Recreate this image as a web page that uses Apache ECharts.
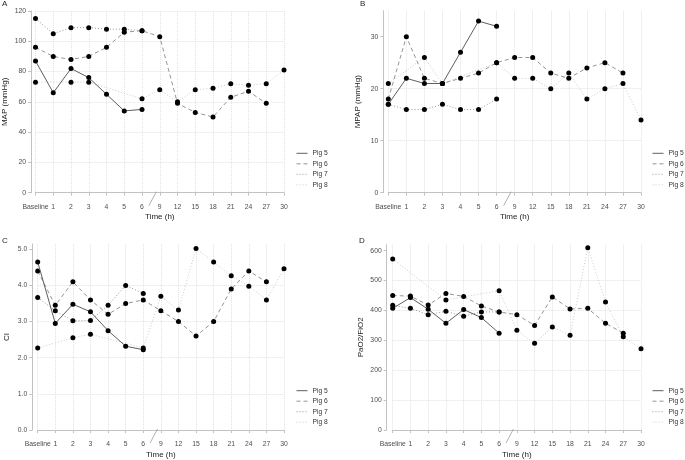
<!DOCTYPE html>
<html><head><meta charset="utf-8">
<script src="https://cdn.jsdelivr.net/npm/echarts@6/dist/echarts.min.js"></script>
<style>html,body{margin:0;padding:0;background:#fff}#c{width:685px;height:460px}</style>
</head><body><div id="c"></div>
<script>
// ---- data ----
const categories = ['Baseline','1','2','3','4','5','6','9','12','15','18','21','24','27','30'];
const pigNames = ['Pig 5','Pig 6','Pig 7','Pig 8'];

const mapPig5 = [87,66,82,76,65,54,55,null,null,null,null,null,null,null,null];
const mapPig6 = [96,90,88,90,96,106,107,103,59,53,50,63,67,59,null];
const mapPig7 = [115,105,109,109,108,108,107,null,null,null,null,null,null,null,null];
const mapPig8 = [73,null,73,73,null,null,62,68,60,68,69,72,71,72,81];

const mpapPig5 = [17,22,21,21,27,33,32,null,null,null,null,null,null,null,null];
const mpapPig6 = [18,30,22,21,22,23,25,26,26,23,22,24,25,23,null];
const mpapPig7 = [17,16,16,17,16,16,18,null,null,null,null,null,null,null,null];
const mpapPig8 = [21,null,26,21,null,null,25,22,22,20,23,18,20,21,14];

const ciPig5 = [4.65,2.95,3.48,3.27,2.75,2.32,2.22,null,null,null,null,null,null,null,null];
const ciPig6 = [4.4,3.45,4.1,3.6,3.2,3.5,3.6,3.3,3.0,2.6,3.0,3.9,4.4,4.1,null];
const ciPig7 = [3.67,3.3,3.02,3.03,3.45,4.0,3.78,null,null,null,null,null,null,null,null];
const ciPig8 = [2.27,null,2.55,2.65,null,null,2.27,3.7,3.32,5.02,4.65,4.27,3.98,3.6,4.46];

const pfPig5 = [407,443,404,357,403,376,324,null,null,null,null,null,null,null,null];
const pfPig6 = [450,448,418,457,447,415,395,386,350,445,405,407,357,324,null];
const pfPig7 = [417,407,386,397,381,395,395,null,null,null,null,null,null,null,null];
const pfPig8 = [572,null,null,435,null,null,466,334,290,345,317,610,428,312,272];

const yTicksMAP = [0,20,40,60,80,100,120];
const yTicksMPAP = [0,10,20,30];
const yTicksCI = [0,1,2,3,4,5];
const yTicksPF = [0,100,200,300,400,500,600];

const panelLetters = ['A','B','C','D'];
const yNames = ['MAP (mmHg)','MPAP (mmHg)','CI','PaO2/FiO2'];
const panelData = [
  [mapPig5,mapPig6,mapPig7,mapPig8],
  [mpapPig5,mpapPig6,mpapPig7,mpapPig8],
  [ciPig5,ciPig6,ciPig7,ciPig8],
  [pfPig5,pfPig6,pfPig7,pfPig8]
];
const panelTicks = [yTicksMAP, yTicksMPAP, yTicksCI, yTicksPF];

// ---- layout / style ----
const layout = [
  {left:35.5, top:11,    width:248.5, height:181.7, max:120,  interval:20,  dec:0, yOff:4.5, letter:[2,0],    legend:[296,149.3]},
  {left:388.3,top:10.7,  width:252.7, height:182,   max:35,   interval:10,  dec:0, yOff:5,   letter:[360,0],  legend:[652,149.3]},
  {left:37.7, top:243.9, width:246.3, height:186.1, max:5.15, interval:1,   dec:1, yOff:5.4, letter:[2,237],  legend:[296,386.7]},
  {left:392.7,top:244.7, width:248.3, height:185.3, max:620,  interval:100, dec:0, yOff:6,   letter:[359,237],legend:[652,386.7]}
];
const pigStyles = [
  {color:'#5e5e5e', type:'solid'},
  {color:'#959595', type:[4,3]},
  {color:'#969696', type:[1,2]},
  {color:'#cacaca', type:[1,2]}
];
const FONT = 'Liberation Sans, Arial, sans-serif';
const axisColor = '#c2c2c2';
const gridColor = '#e2e2e2';
const xOff = 5.5;

const chart = echarts.init(document.getElementById('c'), null, {renderer:'canvas'});

const grid = [], xAxis = [], yAxis = [], series = [], title = [], legend = [];
layout.forEach((L, i) => {
  grid.push({left:L.left, top:L.top, width:L.width, height:L.height, containLabel:false});
  title.push({text:panelLetters[i], left:L.letter[0], top:L.letter[1], padding:0,
    textStyle:{fontSize:8, fontWeight:'normal', color:'#222', fontFamily:FONT}});
  xAxis.push({
    type:'category', gridIndex:i, data:categories, boundaryGap:false, offset:xOff,
    axisLine:{show:true, lineStyle:{color:axisColor, width:1}},
    axisTick:{show:true, interval:0, length:3, lineStyle:{color:axisColor}},
    axisLabel:{interval:0, fontSize:6.8, color:'#4d4d4d', margin:5, fontFamily:FONT},
    splitLine:{show:true, interval:0, lineStyle:{type:'dotted', color:gridColor, width:1}},
    name:'Time (h)', nameLocation:'middle', nameGap:15,
    nameTextStyle:{fontSize:8, color:'#222', fontFamily:FONT}
  });
  const ticks = panelTicks[i];
  yAxis.push({
    type:'value', gridIndex:i, min:0, max:L.max, interval:L.interval, offset:L.yOff,
    axisLine:{show:true, lineStyle:{color:axisColor, width:1}},
    axisTick:{show:true, length:3, lineStyle:{color:axisColor}, customValues:ticks},
    axisLabel:{fontSize:6.8, color:'#4d4d4d', margin:5, fontFamily:FONT, customValues:ticks,
      formatter: v => (ticks.indexOf(Math.round(v*1000)/1000) >= 0 ? v.toFixed(L.dec) : '')},
    splitLine:{show:true, showMaxLine: ticks.indexOf(L.max) >= 0, lineStyle:{type:'dotted', color:gridColor, width:1}},
    name:yNames[i], nameLocation:'middle', nameGap:22,
    nameTextStyle:{fontSize:8, color:'#222', fontFamily:FONT}
  });
  panelData[i].forEach((arr, k) => {
    series.push({
      type:'line', name:pigNames[k], xAxisIndex:i, yAxisIndex:i, data:arr,
      connectNulls:true, symbol:'circle', symbolSize:5, showSymbol:true,
      itemStyle:{color:'#000'},
      lineStyle:{color:pigStyles[k].color, width:1, type:pigStyles[k].type},
      emphasis:{disabled:true}, z: 2 + (3-k)
    });
  });
  legend.push({
    data:pigNames, orient:'vertical', left:L.legend[0], top:L.legend[1], padding:0,
    itemWidth:11, itemHeight:8, itemGap:2.5, selectedMode:false,
    itemStyle:{opacity:0},
    lineStyle:{width:1},
    textStyle:{fontSize:6.7, color:'#333', fontFamily:FONT, lineHeight:8}
  });
});

chart.setOption({
  animation:false, backgroundColor:'#fff',
  textStyle:{fontFamily:FONT},
  title, grid, xAxis, yAxis, series, legend
});

// axis break marks between "6" and "9"
const graphic = [];
layout.forEach((L, i) => {
  const x6 = chart.convertToPixel({xAxisIndex:i}, '6');
  const x9 = chart.convertToPixel({xAxisIndex:i}, '9');
  const y0 = chart.convertToPixel({yAxisIndex:i}, 0) + xOff;
  const mid = (x6 + x9) / 2;
  graphic.push({type:'line', shape:{x1:mid-2, y1:y0+7.5, x2:mid+5.5, y2:y0-6.5},
    style:{stroke:'#9a9a9a', lineWidth:0.8}, silent:true, z:10});
});
chart.setOption({graphic});
</script></body></html>
